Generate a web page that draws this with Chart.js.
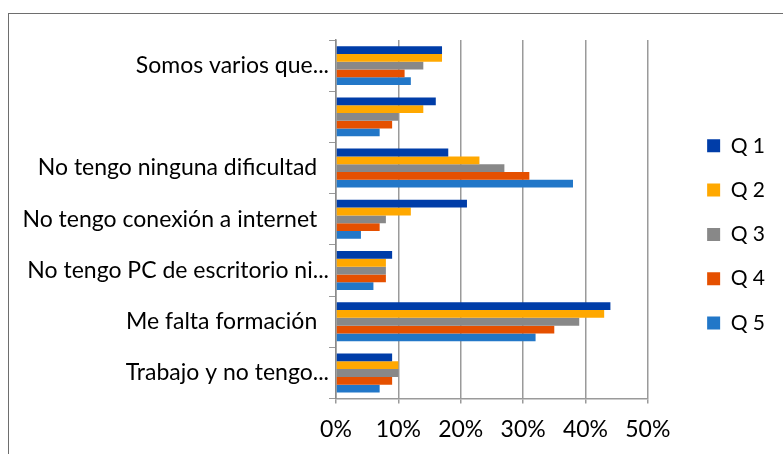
<!DOCTYPE html>
<html lang="es">
<head>
    <meta charset="UTF-8">
    <title>Dificultades</title>
    <style>
        body { margin: 0; background: #fff; }
        .wrap { position: relative; width: 783px; height: 454px; overflow: hidden; }
        .marco {
            position: absolute; left: 8px; top: 13px; width: 800px; height: 480px;
            border-left: 1px solid #6e6e6e; border-top: 1px solid #6e6e6e;
        }
        canvas { position: absolute; left: 0; top: 0; }
    </style>
</head>
<body>
    <div class="wrap">
        <div class="marco"></div>
        <canvas id="chart" width="783" height="454"></canvas>
    </div>

    <script src="https://cdn.jsdelivr.net/npm/chart.js"></script>
    <script>
        // Datos (porcentajes)
        const categorias = [
            'Somos varios que...',
            '',
            'No tengo ninguna dificultad',
            'No tengo conexión a internet',
            'No tengo PC de escritorio ni...',
            'Me falta formación',
            'Trabajo y no tengo...'
        ];
        const q1 = [17, 16, 18, 21, 9, 44, 9];
        const q2 = [17, 14, 23, 12, 8, 43, 10];
        const q3 = [14, 10, 27, 8, 8, 39, 10];
        const q4 = [11, 9, 31, 7, 8, 35, 9];
        const q5 = [12, 7, 38, 4, 6, 32, 7];
        const series = ['Q 1', 'Q 2', 'Q 3', 'Q 4', 'Q 5'];
        const ticksX = [0, 10, 20, 30, 40, 50];

        const colores = ['#003da8', '#ffa800', '#888888', '#e55000', '#2277c8'];
        const valores = [q1, q2, q3, q4, q5];
        const fuente = 'Lato, "Open Sans", sans-serif';

        // la leyenda queda separada del area del grafico
        const moverLeyenda = {
            id: 'moverLeyenda',
            afterLayout(chart) {
                chart.legend.left += 36;
                chart.legend.right += 36;
            }
        };

        const ctx = document.getElementById('chart').getContext('2d');
        new Chart(ctx, {
            type: 'bar',
            data: {
                labels: categorias,
                datasets: series.map((s, i) => ({
                    label: s,
                    data: valores[i],
                    backgroundColor: colores[i],
                    borderWidth: 0,
                    categoryPercentage: 0.76,
                    barPercentage: 1
                }))
            },
            options: {
                indexAxis: 'y',
                responsive: false,
                animation: false,
                layout: { padding: { top: 40, right: 44, bottom: 0, left: 0 } },
                plugins: {
                    tooltip: { enabled: false },
                    legend: {
                        position: 'right',
                        align: 'start',
                        title: { display: true, text: '', padding: 30, font: { size: 10 } },
                        labels: {
                            boxWidth: 13,
                            boxHeight: 13,
                            padding: 23.3,
                            color: '#000',
                            font: { family: fuente, size: 21 }
                        }
                    }
                },
                scales: {
                    x: {
                        min: 0,
                        max: 50,
                        afterBuildTicks(scale) {
                            scale.ticks = ticksX.map(v => ({ value: v }));
                        },
                        afterFit(scale) { scale.height = 55.4; },
                        ticks: {
                            color: '#000',
                            padding: 12,
                            font: { family: fuente, size: 23 },
                            callback: v => v + '%'
                        },
                        grid: { color: '#9a9a9a', lineWidth: 1.5, tickLength: 5 },
                        border: { color: '#9a9a9a', width: 1.5 }
                    },
                    y: {
                        afterFit(scale) { scale.width = 336; },
                        ticks: {
                            color: '#000',
                            padding: 0,
                            font: { family: fuente, size: 23 },
                            callback: function (v, i) {
                                const t = categorias[i];
                                return t.endsWith('...') || t === '' ? t : t + '  ';
                            }
                        },
                        grid: { drawOnChartArea: false, color: '#999', tickLength: 7, offset: true },
                        border: { color: '#8a8a8a', width: 1.5 }
                    }
                }
            },
            plugins: [moverLeyenda]
        });
    </script>
</body>
</html>
